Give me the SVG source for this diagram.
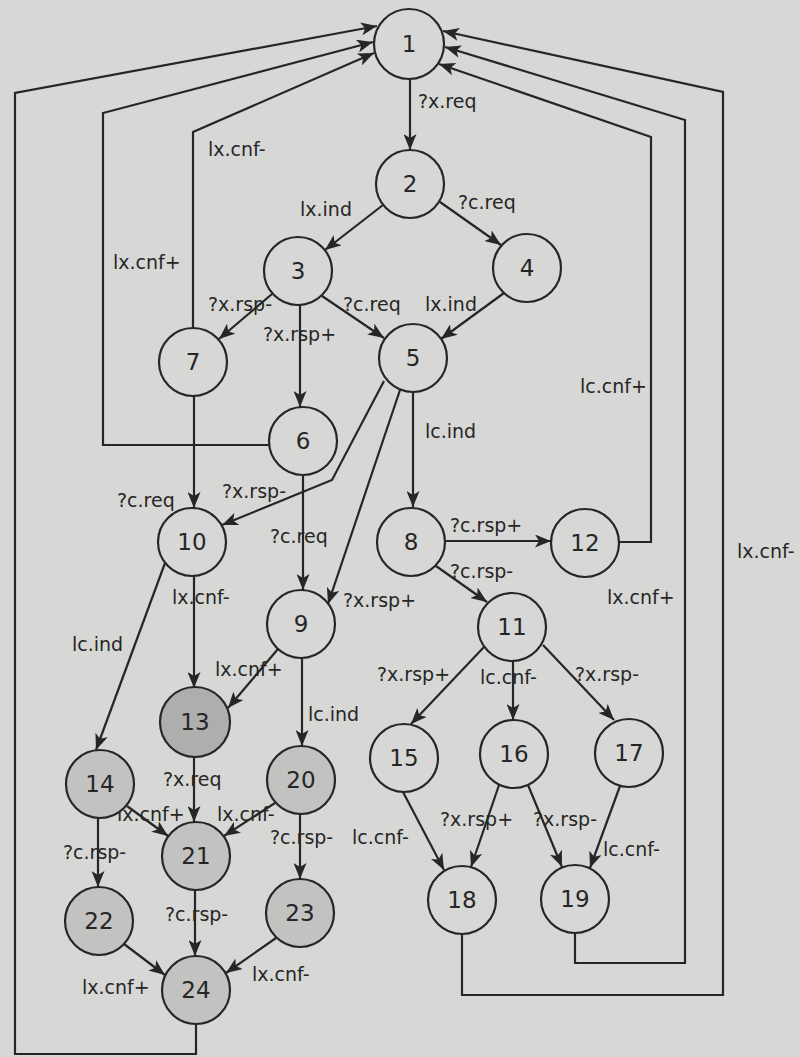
<svg xmlns="http://www.w3.org/2000/svg" width="800" height="1057" viewBox="0 0 800 1057">
<style>
.bg{fill:#d7d7d5}
.n{fill:#d7d7d5;stroke:#262626;stroke-width:2.2}
.s{fill:#c2c2c0;stroke:#262626;stroke-width:2.2}
.d{fill:#aeaeac;stroke:#262626;stroke-width:2.2}
.num{font-family:"DejaVu Sans",sans-serif;font-size:23px;fill:#262626;text-anchor:middle}
.e{fill:none;stroke:#262626;stroke-width:2.2;marker-end:url(#ah)}
.t{font-family:"DejaVu Sans",sans-serif;font-size:19px;fill:#262626}
</style>
<defs>
<marker id="ah" markerUnits="userSpaceOnUse" markerWidth="17" markerHeight="13" refX="16" refY="6.5" orient="auto">
<path d="M0,0 L16,6.5 L0,13 L4,6.5 z" fill="#262626"/>
</marker>
</defs>
<rect class="bg" x="0" y="0" width="800" height="1057"/>
<g id="connectors">
<line class="e" x1="410" y1="79" x2="410" y2="150"/>
<line class="e" x1="383" y1="205" x2="325" y2="250"/>
<line class="e" x1="440" y1="202" x2="501" y2="245"/>
<line class="e" x1="272" y1="294" x2="219" y2="339"/>
<line class="e" x1="300" y1="305" x2="300" y2="407"/>
<line class="e" x1="322" y1="296" x2="384" y2="338"/>
<line class="e" x1="504" y1="293" x2="441" y2="339"/>
<line class="e" x1="413" y1="392" x2="413" y2="507"/>
<polyline class="e" points="384,381 332,480 222,525"/>
<line class="e" x1="400" y1="390" x2="328" y2="604"/>
<line class="e" x1="303" y1="475" x2="303" y2="590"/>
<line class="e" x1="194" y1="396" x2="194" y2="508"/>
<line class="e" x1="445" y1="541" x2="551" y2="541"/>
<line class="e" x1="436" y1="566" x2="487" y2="602"/>
<line class="e" x1="194" y1="576" x2="194" y2="688"/>
<line class="e" x1="165" y1="563" x2="96" y2="750"/>
<line class="e" x1="278" y1="649" x2="228" y2="708"/>
<line class="e" x1="302" y1="658" x2="302" y2="746"/>
<line class="e" x1="484" y1="647" x2="411" y2="724"/>
<line class="e" x1="513" y1="661" x2="513" y2="720"/>
<line class="e" x1="543" y1="645" x2="614" y2="720"/>
<line class="e" x1="194" y1="756" x2="194" y2="822"/>
<line class="e" x1="127" y1="806" x2="168" y2="836"/>
<line class="e" x1="98" y1="818" x2="98" y2="887"/>
<line class="e" x1="275" y1="803" x2="224" y2="836"/>
<line class="e" x1="300" y1="814" x2="300" y2="879"/>
<line class="e" x1="195" y1="890" x2="195" y2="956"/>
<line class="e" x1="124" y1="944" x2="165" y2="975"/>
<line class="e" x1="276" y1="938" x2="226" y2="973"/>
<line class="e" x1="403" y1="792" x2="444" y2="870"/>
<line class="e" x1="499" y1="785" x2="471" y2="867"/>
<line class="e" x1="528" y1="785" x2="562" y2="867"/>
<line class="e" x1="620" y1="786" x2="590" y2="868"/>
<polyline class="e" points="196,1024 196,1054 15,1054 15,93 377,26"/>
<polyline class="e" points="269,445 103,445 103,113 373,42"/>
<polyline class="e" points="193,328 193,132 374,53"/>
<polyline class="e" points="619,542 651,542 651,137 439,64"/>
<polyline class="e" points="575,933 575,963 685,963 685,120 445,47"/>
<polyline class="e" points="462,934 462,995 723,995 723,92 443,31"/>
</g>
<g id="labels">
<text class="t" x="418" y="108">?x.req</text>
<text class="t" x="300" y="216">lx.ind</text>
<text class="t" x="458" y="209">?c.req</text>
<text class="t" x="208" y="156">lx.cnf-</text>
<text class="t" x="113" y="269">lx.cnf+</text>
<text class="t" x="208" y="311">?x.rsp-</text>
<text class="t" x="263" y="341">?x.rsp+</text>
<text class="t" x="343" y="311">?c.req</text>
<text class="t" x="425" y="311">lx.ind</text>
<text class="t" x="580" y="393">lc.cnf+</text>
<text class="t" x="425" y="438">lc.ind</text>
<text class="t" x="117" y="507">?c.req</text>
<text class="t" x="222" y="498">?x.rsp-</text>
<text class="t" x="270" y="543">?c.req</text>
<text class="t" x="450" y="532">?c.rsp+</text>
<text class="t" x="450" y="578">?c.rsp-</text>
<text class="t" x="737" y="558">lx.cnf-</text>
<text class="t" x="607" y="604">lx.cnf+</text>
<text class="t" x="172" y="604">lx.cnf-</text>
<text class="t" x="343" y="607">?x.rsp+</text>
<text class="t" x="72" y="651">lc.ind</text>
<text class="t" x="215" y="676">lx.cnf+</text>
<text class="t" x="377" y="681">?x.rsp+</text>
<text class="t" x="480" y="684">lc.cnf-</text>
<text class="t" x="575" y="681">?x.rsp-</text>
<text class="t" x="308" y="721">lc.ind</text>
<text class="t" x="163" y="786">?x.req</text>
<text class="t" x="117" y="821">lx.cnf+</text>
<text class="t" x="217" y="821">lx.cnf-</text>
<text class="t" x="440" y="826">?x.rsp+</text>
<text class="t" x="533" y="826">?x.rsp-</text>
<text class="t" x="63" y="859">?c.rsp-</text>
<text class="t" x="270" y="844">?c.rsp-</text>
<text class="t" x="352" y="844">lc.cnf-</text>
<text class="t" x="603" y="856">lc.cnf-</text>
<text class="t" x="165" y="921">?c.rsp-</text>
<text class="t" x="82" y="994">lx.cnf+</text>
<text class="t" x="252" y="981">lx.cnf-</text>
</g>
<g id="node-1"><circle class="n" cx="409" cy="44" r="35"/><text class="num" x="409" y="52">1</text></g>
<g id="node-2"><circle class="n" cx="410" cy="184" r="34"/><text class="num" x="410" y="192">2</text></g>
<g id="node-3"><circle class="n" cx="298" cy="271" r="34"/><text class="num" x="298" y="279">3</text></g>
<g id="node-4"><circle class="n" cx="527" cy="268" r="34"/><text class="num" x="527" y="276">4</text></g>
<g id="node-5"><circle class="n" cx="413" cy="358" r="34"/><text class="num" x="413" y="366">5</text></g>
<g id="node-6"><circle class="n" cx="303" cy="441" r="34"/><text class="num" x="303" y="449">6</text></g>
<g id="node-7"><circle class="n" cx="193" cy="362" r="34"/><text class="num" x="193" y="370">7</text></g>
<g id="node-8"><circle class="n" cx="411" cy="542" r="34"/><text class="num" x="411" y="550">8</text></g>
<g id="node-9"><circle class="n" cx="301" cy="624" r="34"/><text class="num" x="301" y="632">9</text></g>
<g id="node-10"><circle class="n" cx="192" cy="542" r="34"/><text class="num" x="192" y="550">10</text></g>
<g id="node-11"><circle class="n" cx="512" cy="627" r="34"/><text class="num" x="512" y="635">11</text></g>
<g id="node-12"><circle class="n" cx="585" cy="543" r="34"/><text class="num" x="585" y="551">12</text></g>
<g id="node-13"><circle class="d" cx="195" cy="722" r="35"/><text class="num" x="195" y="730">13</text></g>
<g id="node-14"><circle class="s" cx="100" cy="784" r="34"/><text class="num" x="100" y="792">14</text></g>
<g id="node-15"><circle class="n" cx="404" cy="758" r="34"/><text class="num" x="404" y="766">15</text></g>
<g id="node-16"><circle class="n" cx="514" cy="754" r="34"/><text class="num" x="514" y="762">16</text></g>
<g id="node-17"><circle class="n" cx="629" cy="753" r="34"/><text class="num" x="629" y="761">17</text></g>
<g id="node-18"><circle class="n" cx="462" cy="900" r="34"/><text class="num" x="462" y="908">18</text></g>
<g id="node-19"><circle class="n" cx="575" cy="899" r="34"/><text class="num" x="575" y="907">19</text></g>
<g id="node-20"><circle class="s" cx="301" cy="780" r="34"/><text class="num" x="301" y="788">20</text></g>
<g id="node-21"><circle class="s" cx="196" cy="856" r="34"/><text class="num" x="196" y="864">21</text></g>
<g id="node-22"><circle class="s" cx="99" cy="921" r="34"/><text class="num" x="99" y="929">22</text></g>
<g id="node-23"><circle class="s" cx="300" cy="913" r="34"/><text class="num" x="300" y="921">23</text></g>
<g id="node-24"><circle class="s" cx="196" cy="990" r="34"/><text class="num" x="196" y="998">24</text></g>
</svg>
